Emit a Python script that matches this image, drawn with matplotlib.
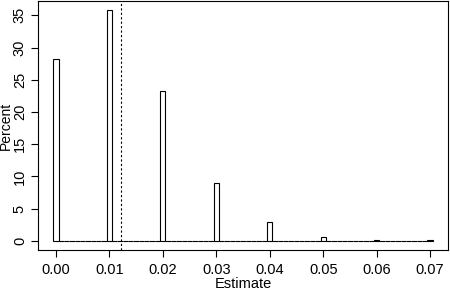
import numpy as np
import matplotlib
matplotlib.use("Agg")
import matplotlib.pyplot as plt

plt.rcParams['font.family'] = ['Liberation Sans', 'DejaVu Sans']

estimates = [0.00, 0.01, 0.02, 0.03, 0.04, 0.05, 0.06, 0.07]
percent = [28.2, 35.8, 23.3, 9.0, 2.9, 0.6, 0.1, 0.1]
mean_line = 0.0121
xticks = [0.00, 0.01, 0.02, 0.03, 0.04, 0.05, 0.06, 0.07]
yticks = [0, 5, 10, 15, 20, 25, 30, 35]

binw = 0.001
centers = np.round(np.arange(0, 0.0705, binw), 4)
heights = np.zeros_like(centers)
for e, p in zip(estimates, percent):
    heights[np.argmin(np.abs(centers - e))] = p

fig = plt.figure(figsize=(4.5, 2.89), dpi=100)
ax = fig.add_axes([38/450, 1-250/289, 410/450, 249/289])
ax.bar(centers, heights, width=binw, facecolor='white', edgecolor='black', linewidth=0.8)
ax.axvline(mean_line, color='black', linestyle=(0, (2, 2)), linewidth=0.8)

ax.set_xlim(-0.00334, 0.07334)
ax.set_ylim(-1.43, 37.23)
ax.set_xticks(xticks)
ax.set_xticklabels([f"{t:.2f}" for t in xticks])
ax.set_yticks(yticks)
ax.set_yticklabels([str(t) for t in yticks], rotation=90, va='center')
ax.tick_params(direction='out', length=5, width=0.8, labelsize=10.5, pad=4)
ax.tick_params(axis='y', pad=3)
for s in ax.spines.values():
    s.set_linewidth(0.8)
ax.set_xlabel("Estimate", fontsize=10.5, labelpad=0)
ax.set_ylabel("Percent", fontsize=10)
ax.yaxis.set_label_coords((13 - 38) / 410, 0.5)

fig.savefig("out.png", dpi=100)
